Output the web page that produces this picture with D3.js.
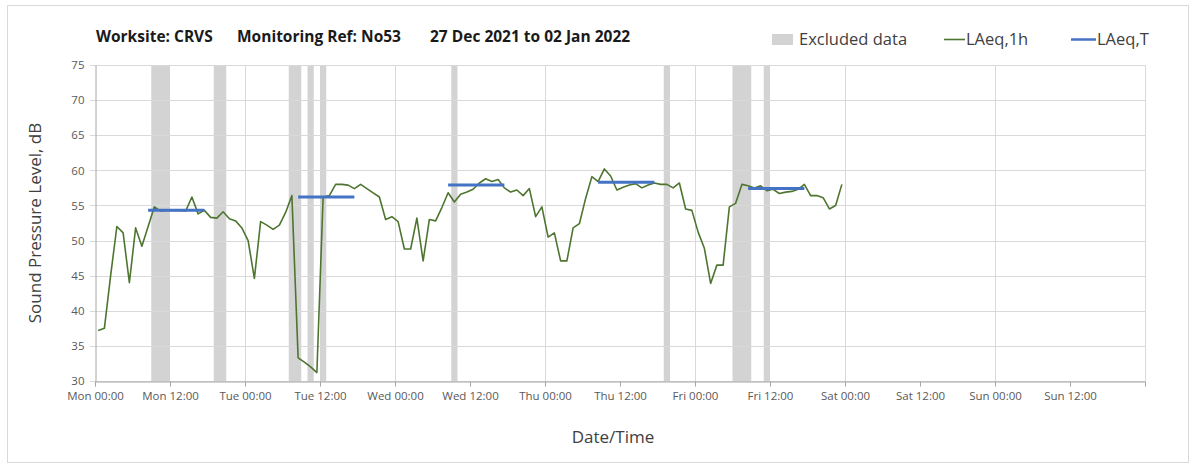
<!DOCTYPE html>
<html lang="en">
  <head>
    <meta charset="utf-8" />
    <title>noise monitoring chart</title>
    <script type="text/javascript" src="https://d3js.org/d3.v7.min.js"></script>
    <style>
      body { margin: 0; background: #fff; }
      text { font-family: "Open Sans", "DejaVu Sans", sans-serif; }
    </style>
  </head>
  <body>
    <div id="chart"></div>

    <script type="text/javascript">
      /********************************
       * data
       ********************************/

      const startTime = new Date(2021, 11, 27, 0, 0); // Mon 27 Dec 2021
      const endTime = new Date(2022, 0, 3, 0, 0);

      // hourly LAeq,1h values, Mon 00:00 .. Fri 23:00
      const laeq1h = [
        37.2, 37.5, 45.0, 52.0, 51.1, 44.0, 51.8, 49.2, 52.0, 54.8, 54.2, 54.3,
        54.3, 54.3, 54.2, 56.2, 53.8, 54.3, 53.3, 53.2, 54.1, 53.1, 52.8, 51.8,
        50.0, 44.6, 52.7, 52.2, 51.6, 52.2, 54.0, 56.4, 33.3, 32.7, 32.0, 31.2,
        56.2, 56.4, 58.0, 58.0, 57.9, 57.4, 58.0, 57.4, 56.8, 56.2, 53.0, 53.4,
        52.7, 48.8, 48.8, 53.2, 47.1, 53.0, 52.8, 54.7, 56.8, 55.5, 56.6, 56.9,
        57.3, 58.2, 58.8, 58.4, 58.7, 57.5, 56.9, 57.2, 56.4, 57.4, 53.4, 54.8,
        50.5, 51.1, 47.1, 47.1, 51.8, 52.4, 56.0, 59.1, 58.4, 60.2, 59.2, 57.2,
        57.6, 57.9, 58.1, 57.5, 57.9, 58.2, 58.0, 58.0, 57.5, 58.2, 54.5, 54.3,
        51.2, 48.9, 43.9, 46.5, 46.5, 54.8, 55.3, 58.0, 57.8, 57.5, 57.8, 57.1,
        57.3, 56.7, 56.9, 57.0, 57.3, 58.0, 56.4, 56.4, 56.1, 54.5, 55.0, 58.0,
      ];

      // LAeq,T over the day period (08:00 - 18:00), one per weekday
      const periodDays = [0, 1, 2, 3, 4]; // days after Monday
      const laeqT = [54.3, 56.2, 57.9, 58.3, 57.4];

      // excluded data, [start hour, end hour] counted from Mon 00:00
      const excludedStart = [9, 19, 31, 34, 36, 57, 91, 102, 107];
      const excludedEnd = [12, 21, 33, 35, 37, 58, 92, 105, 108];

      const yTicks = [30, 35, 40, 45, 50, 55, 60, 65, 70, 75];

      const hour = 3600 * 1000;
      const points = laeq1h.map((v, i) => ({
        t: new Date(startTime.getTime() + (i + 0.5) * hour),
        v: v,
      }));

      /***************************
       * svg
       **************************/

      const width = 1197;
      const height = 470;
      const margin = { top: 65, right: 52, bottom: 89, left: 95 };

      const svg = d3
        .select("div#chart")
        .append("svg")
        .attr("width", width)
        .attr("height", height);

      // chart border
      svg
        .append("rect")
        .attr("x", 7.5)
        .attr("y", 5.5)
        .attr("width", 1181)
        .attr("height", 457)
        .attr("fill", "#fff")
        .attr("stroke", "#d9d9d9");

      /************************
       * scales
       ***********************/

      const x = d3
        .scaleTime()
        .domain([startTime, endTime])
        .range([margin.left, width - margin.right]);

      const y = d3
        .scaleLinear()
        .domain([30, 75])
        .range([height - margin.bottom, margin.top]);

      /************************
       * excluded data bands
       ***********************/

      svg
        .selectAll("rect.excluded")
        .data(excludedStart)
        .enter()
        .append("rect")
        .attr("class", "excluded")
        .attr("x", (d) => x(new Date(startTime.getTime() + d * hour)))
        .attr("width", (d, i) =>
          x(new Date(startTime.getTime() + excludedEnd[i] * hour)) -
          x(new Date(startTime.getTime() + d * hour))
        )
        .attr("y", y(75))
        .attr("height", y(30) - y(75))
        .attr("fill", "#d3d3d3");

      /************************
       * grid
       ***********************/

      const gridColor = "#d9d9d9";

      svg
        .append("g")
        .selectAll("line")
        .data(yTicks)
        .enter()
        .append("line")
        .attr("x1", margin.left - 5)
        .attr("x2", width - margin.right)
        .attr("y1", (d) => Math.round(y(d)) + 0.5)
        .attr("y2", (d) => Math.round(y(d)) + 0.5)
        .attr("stroke", gridColor);

      const dayTicks = d3.timeDay.range(
        d3.timeDay.offset(startTime, 1),
        d3.timeDay.offset(endTime, 1)
      );

      svg
        .append("g")
        .selectAll("line")
        .data(dayTicks)
        .enter()
        .append("line")
        .attr("x1", (d) => Math.round(x(d)) + 0.5)
        .attr("x2", (d) => Math.round(x(d)) + 0.5)
        .attr("y1", y(75))
        .attr("y2", y(30))
        .attr("stroke", gridColor);

      /************************
       * axes
       ***********************/

      const xAxis = d3
        .axisBottom(x)
        .ticks(d3.timeHour.every(12))
        .tickSize(5)
        .tickFormat((d) => (d < endTime ? d3.timeFormat("%a %H:%M")(d) : ""));

      const gx = svg
        .append("g")
        .attr("transform", `translate(0,${Math.round(y(30)) + 0.5})`)
        .call(xAxis);
      gx.select(".domain").attr("stroke", "#a6a6a6");
      gx.selectAll(".tick line").attr("stroke", "#a6a6a6");
      gx.selectAll(".tick text")
        .attr("fill", "#595959")
        .attr("font-size", 11.5)
        .attr("dy", "0.9em");

      const gy = svg
        .append("g")
        .attr("transform", `translate(${margin.left + 0.5},0)`)
        .call(d3.axisLeft(y).tickValues(yTicks).tickSize(0).tickPadding(11));
      gy.select(".domain").attr("stroke", "#a6a6a6");
      gy.selectAll(".tick text").attr("fill", "#595959").attr("font-size", 11.5);

      /************************
       * lines
       ***********************/

      const line = d3
        .line()
        .x((d) => x(d.t))
        .y((d) => y(d.v));

      svg
        .append("path")
        .datum(points)
        .attr("fill", "none")
        .attr("stroke", "#4e7530")
        .attr("stroke-width", 1.6)
        .attr("stroke-linejoin", "round")
        .attr("d", line);

      svg
        .selectAll("line.period")
        .data(laeqT)
        .enter()
        .append("line")
        .attr("class", "period")
        .attr("x1", (d, i) =>
          x(new Date(startTime.getTime() + (periodDays[i] * 24 + 8.5) * hour))
        )
        .attr("x2", (d, i) =>
          x(new Date(startTime.getTime() + (periodDays[i] * 24 + 17.5) * hour))
        )
        .attr("y1", (d) => y(d))
        .attr("y2", (d) => y(d))
        .attr("stroke", "#4472c4")
        .attr("stroke-width", 3);

      /************************
       * title, legend, labels
       ***********************/

      const title = svg
        .append("g")
        .attr("font-weight", "bold")
        .attr("font-size", 15.5)
        .attr("fill", "#1a1a1a");
      title.append("text").attr("x", 96).attr("y", 42).text("Worksite: CRVS");
      title.append("text").attr("x", 237).attr("y", 42).text("Monitoring Ref: No53");
      title.append("text").attr("x", 430).attr("y", 42).text("27 Dec 2021 to 02 Jan 2022");

      const legend = svg.append("g").attr("font-size", 16.5).attr("fill", "#404040");
      legend
        .append("rect")
        .attr("x", 772)
        .attr("y", 34)
        .attr("width", 21)
        .attr("height", 11)
        .attr("fill", "#d3d3d3");
      legend.append("text").attr("x", 799).attr("y", 45).text("Excluded data");
      legend
        .append("line")
        .attr("x1", 944)
        .attr("x2", 965)
        .attr("y1", 39.5)
        .attr("y2", 39.5)
        .attr("stroke", "#4e7530")
        .attr("stroke-width", 1.6);
      legend.append("text").attr("x", 966).attr("y", 45).text("LAeq,1h");
      legend
        .append("line")
        .attr("x1", 1071)
        .attr("x2", 1096)
        .attr("y1", 39.5)
        .attr("y2", 39.5)
        .attr("stroke", "#4472c4")
        .attr("stroke-width", 2.5);
      legend.append("text").attr("x", 1097).attr("y", 45).text("LAeq,T");

      svg
        .append("text")
        .attr("transform", "translate(41,223) rotate(-90)")
        .attr("text-anchor", "middle")
        .attr("font-size", 17)
        .attr("fill", "#404040")
        .text("Sound Pressure Level, dB");

      svg
        .append("text")
        .attr("x", 613)
        .attr("y", 443)
        .attr("text-anchor", "middle")
        .attr("font-size", 17)
        .attr("fill", "#404040")
        .text("Date/Time");
    </script>
  </body>
</html>
